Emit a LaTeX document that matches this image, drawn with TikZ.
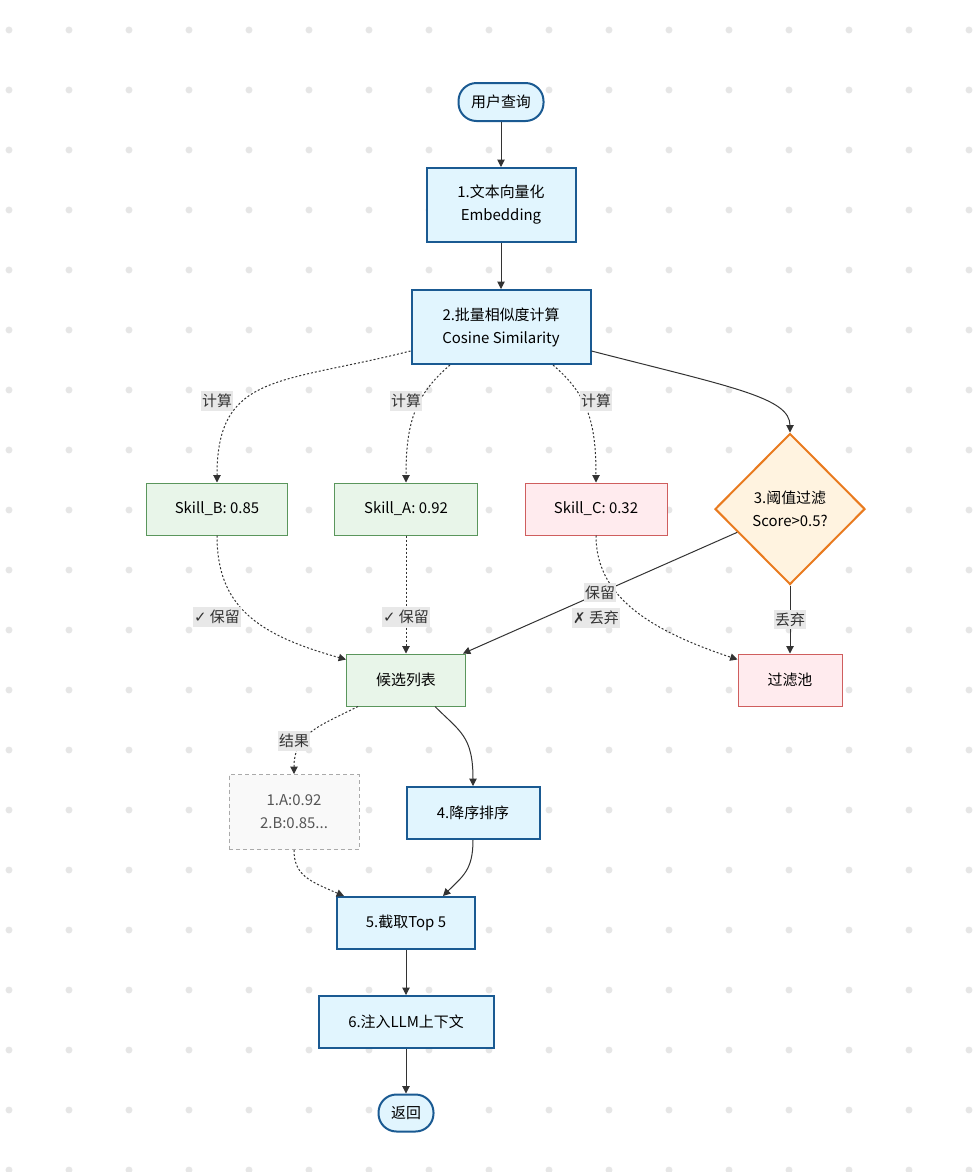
\documentclass[tikz,border=0pt]{standalone}
\usepackage{fontspec}
\setmainfont{Noto Sans CJK SC}
\newfontfamily\symfont{DejaVu Sans}
\usetikzlibrary{shapes.geometric,arrows.meta,calc}
\definecolor{bluefill}{HTML}{E1F5FE}
\definecolor{bluedraw}{HTML}{1A5A92}
\definecolor{greenfill}{HTML}{E8F5E9}
\definecolor{greendraw}{HTML}{5A965C}
\definecolor{redfill}{HTML}{FFEBEE}
\definecolor{reddraw}{HTML}{CF5E5E}
\definecolor{orfill}{HTML}{FFF3E0}
\definecolor{ordraw}{HTML}{E97A1E}
\definecolor{resfill}{HTML}{F9F9F9}
\definecolor{resdraw}{HTML}{AAAAAA}
\definecolor{restext}{HTML}{555555}
\definecolor{linec}{HTML}{333333}
\definecolor{lblc}{HTML}{E8E8E8}
\definecolor{dotc}{HTML}{E6E6E6}
\begin{document}
\begin{tikzpicture}[x=0.75pt,y=0.75pt,
  font=\fontsize{11.2}{17.2}\selectfont,
  bluebox/.style={draw=bluedraw,fill=bluefill,line width=1.5pt,align=center,minimum height=39pt,inner sep=0pt},
  greenbox/.style={draw=greendraw,fill=greenfill,line width=0.75pt,align=center,minimum height=39pt,inner sep=0pt},
  redbox/.style={draw=reddraw,fill=redfill,line width=0.75pt,align=center,minimum height=39pt,inner sep=0pt},
  stadium/.style={draw=bluedraw,fill=bluefill,line width=1.5pt,rounded corners=13.5pt,inner sep=0pt},
  ln/.style={draw=linec,line width=0.75pt,-{Triangle[length=5.5pt,width=5.5pt]}},
  dotln/.style={ln,dash pattern=on 1.5pt off 1.5pt},
  elbl/.style={fill=lblc,inner xsep=0.5pt,inner ysep=2pt,text=linec,font=\fontsize{11.2}{12}\selectfont}]
\fill[white] (0,0) rectangle (974,-1172);
\useasboundingbox (0,0) rectangle (974,-1172);
\foreach \i in {0,...,16} \foreach \j in {0,...,19} \fill[dotc] (9+60*\i,-30-60*\j) circle[radius=2.6pt];

\node[stadium,minimum width=63.75pt,minimum height=28.5pt] (start) at (501,-102) {用户查询};
\node[bluebox,minimum width=111.75pt,minimum height=55.5pt] (n1) at (501,-205) {1.文本向量化\\Embedding};
\node[bluebox,minimum width=134.25pt,minimum height=55.5pt] (n2) at (501,-327) {2.批量相似度计算\\Cosine Similarity};
\node[greenbox,minimum width=105.75pt] (skB) at (217,-509) {Skill\_B: 0.85};
\node[greenbox,minimum width=107.25pt] (skA) at (406,-509) {Skill\_A: 0.92};
\node[redbox,minimum width=106.5pt] (skC) at (596,-509) {Skill\_C: 0.32};
\node[diamond,draw=ordraw,fill=orfill,line width=1.5pt,minimum width=112.5pt,minimum height=113.25pt,inner sep=0pt,align=center] (dia) at (790,-509) {3.阈值过滤\\Score>0.5?};
\node[greenbox,minimum width=89.25pt] (cand) at (406,-680) {候选列表};
\node[redbox,minimum width=78pt] (pool) at (790,-680) {过滤池};
\node[draw=resdraw,fill=resfill,dash pattern=on 3pt off 2.25pt,line width=0.75pt,text=restext,align=center,minimum width=97.5pt,minimum height=56.25pt,inner sep=0pt] (res) at (294,-812) {1.A:0.92\\2.B:0.85...};
\node[bluebox,minimum width=99.75pt] (n4) at (473,-813) {4.降序排序};
\node[bluebox,minimum width=103.5pt] (n5) at (406,-923) {5.截取Top 5};
\node[bluebox,minimum width=131.25pt] (n6) at (406,-1022) {6.注入LLM上下文};
\node[stadium,minimum width=41.25pt,minimum height=27.75pt] (ret) at (406,-1113) {返回};

\draw[ln] (start) -- (n1);
\draw[ln] (n1) -- (n2);
\draw[dotln] ($(n2.south west)+(0,14)$) .. controls +(-130,-33) and +(0,110) .. (skB.north) node[elbl,at={(217,-401)}] {计算};
\draw[dotln] ($(n2.south)+(-51,0)$) .. controls +(-35,-30) and +(0,60) .. (skA.north) node[elbl,at={(406,-401)}] {计算};
\draw[dotln] ($(n2.south)+(52,0)$) .. controls +(35,-30) and +(0,60) .. (skC.north) node[elbl,at={(596,-401)}] {计算};
\draw[ln] ($(n2.south east)+(0,14)$) .. controls +(140,-36) and +(0,35) .. (dia.north);
\draw[dotln] (skB.south) .. controls +(0,-70) and +(-90,25) .. ($(cand.north west)+(0,-6)$) node[elbl,at={(217,-617)}] {{\symfont ✓} 保留};
\draw[dotln] (skA.south) -- (cand.north) node[elbl,at={(406,-617)}] {{\symfont ✓} 保留};
\draw[dotln] (skC.south) .. controls +(0,-60) and +(-90,30) .. ($(pool.north west)+(0,-6)$) node[elbl,at={(596,-618)}] {{\symfont ✗} 丢弃};
\draw[ln] (dia) -- ($(cand.north east)+(-3,0)$) node[elbl,pos=0.5] {保留};
\draw[ln] (dia.south) -- (pool.north) node[elbl,midway] {丢弃};
\draw[dotln] ($(cand.south west)+(12,0)$) .. controls +(-40,-20) and +(0,40) .. (res.north) node[elbl,at={(294,-741)}] {结果};
\draw[ln] ($(cand.south)+(29,0)$) .. controls +(25,-25) and +(0,50) .. (n4.north);
\draw[dotln] (res.south) .. controls +(0,-25) and +(-35,15) .. ($(n5.north west)+(8,0)$);
\draw[ln] (n4.south) .. controls +(0,-30) and +(20,20) .. ($(n5.north)+(37,0)$);
\draw[ln] (n5) -- (n6);
\draw[ln] (n6) -- (ret);
\end{tikzpicture}
\end{document}
